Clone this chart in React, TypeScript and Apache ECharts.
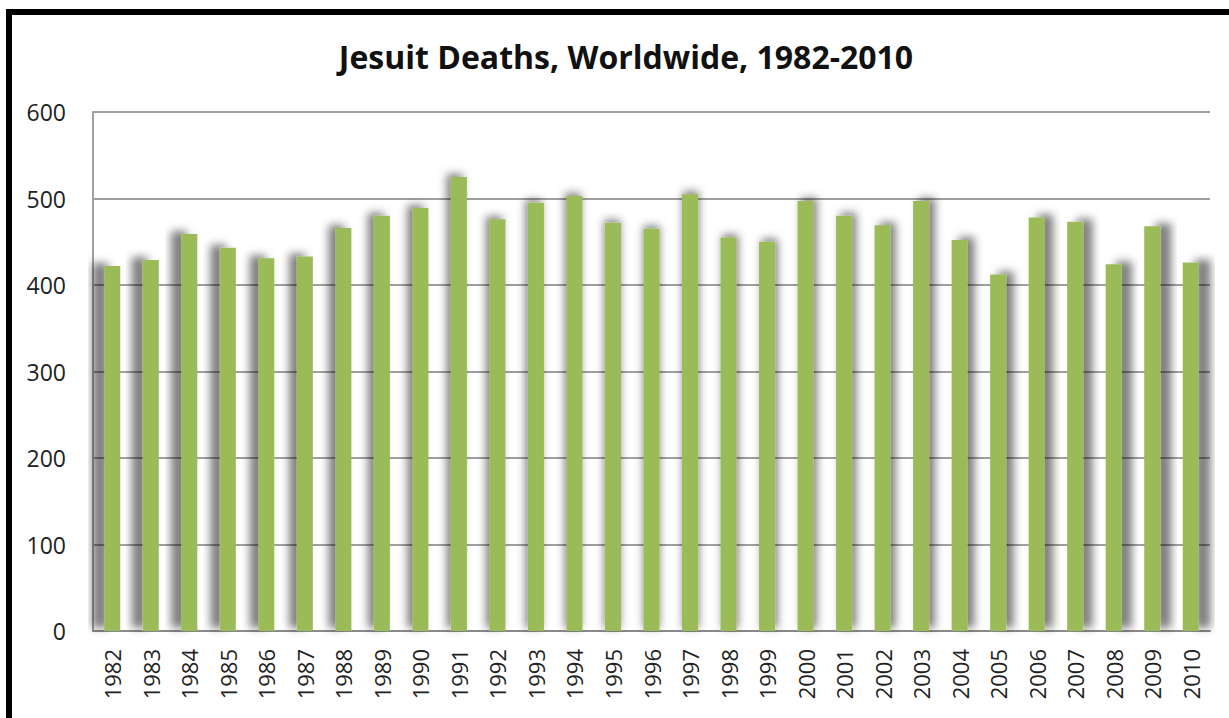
import React, { useEffect, useRef } from "react";
import * as echarts from "echarts";

const titleText = "Jesuit Deaths, Worldwide, 1982-2010";
const years = [
  "1982", "1983", "1984", "1985", "1986", "1987", "1988", "1989", "1990", "1991",
  "1992", "1993", "1994", "1995", "1996", "1997", "1998", "1999", "2000", "2001",
  "2002", "2003", "2004", "2005", "2006", "2007", "2008", "2009", "2010",
];
const deaths = [
  422, 429, 459, 443, 431, 433, 466, 480, 489, 525,
  476, 495, 503, 472, 465, 505, 455, 450, 497, 480,
  469, 497, 452, 412, 478, 473, 424, 468, 426,
];
const yTicks = { min: 0, max: 600, interval: 100 };

export default function App() {
  const ref = useRef<HTMLDivElement>(null);
  useEffect(() => {
    if (!ref.current) return;
    const chart = echarts.init(ref.current, undefined, { renderer: "svg" });
    const mid = (years.length - 1) / 2;
    chart.setOption({
      animation: false,
      backgroundColor: "#ffffff",
      graphic: [
        {
          type: "rect",
          shape: { x: 9, y: 12, width: 1400, height: 900 },
          style: { fill: "none", stroke: "#000000", lineWidth: 6 },
          silent: true,
          z: 100,
        },
        {
          type: "text",
          x: 626,
          y: 56,
          style: {
            text: titleText,
            fontFamily: "Open Sans",
            fontWeight: "bold",
            fontSize: 32,
            fill: "#111111",
            textAlign: "center",
            textVerticalAlign: "middle",
          },
        },
      ],
      grid: { left: 93, top: 112, right: 19, bottom: 87, containLabel: false },
      xAxis: {
        type: "category",
        data: years,
        axisLine: { show: true, lineStyle: { color: "#8a8a8a", width: 2 } },
        axisTick: { show: false },
        axisLabel: {
          rotate: 90,
          margin: 18,
          fontFamily: "Open Sans",
          fontSize: 22,
          color: "#222222",
          interval: 0,
        },
      },
      yAxis: {
        type: "value",
        min: yTicks.min,
        max: yTicks.max,
        interval: yTicks.interval,
        axisLine: { show: true, lineStyle: { color: "#a0a0a0", width: 2 } },
        axisTick: { show: false },
        axisLabel: {
          margin: 27,
          fontFamily: "Open Sans",
          fontSize: 23,
          color: "#222222",
        },
        splitLine: { show: true, lineStyle: { color: "#7f7f7f", width: 1.5 } },
      },
      series: [
        {
          type: "bar",
          data: deaths.map((v, i) => ({
            value: v,
            itemStyle: {
              color: "#9BBB59",
              shadowColor: "rgba(0,0,0,0.5)",
              shadowBlur: 8,
              shadowOffsetX: (i - mid) * 0.85,
              shadowOffsetY: -3,
            },
          })),
          barWidth: 16,
        },
      ],
    });
    return () => chart.dispose();
  }, []);
  return (
    <div
      ref={ref}
      style={{ position: "fixed", left: 0, top: 0, width: 1229, height: 718 }}
    />
  );
}
